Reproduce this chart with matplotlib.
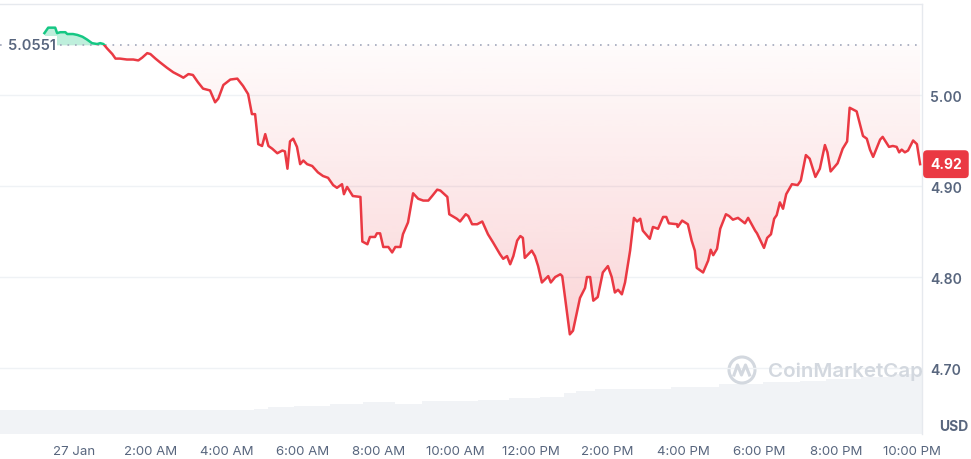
import numpy as np
import matplotlib
matplotlib.use("Agg")
import matplotlib.pyplot as plt
from matplotlib.patches import Rectangle, Circle
from matplotlib.lines import Line2D
from matplotlib.colors import to_rgb
from matplotlib.transforms import blended_transform_factory, IdentityTransform

plt.rcParams['font.family'] = ['Inter', 'DejaVu Sans']

# minutes after 00:00, 27 Jan (negative = evening of 26 Jan)
minutes = [-47, -41, -30, -27, -22, -14, -11, -2, 5, 13, 20, 28, 36, 41, 46, 52, 60, 65, 72, 83,
           93, 101, 107, 115, 120, 128, 135, 146, 156, 167, 172, 180, 187, 195, 203, 214, 222, 227, 235, 246,
           257, 266, 274, 280, 285, 290, 296, 301, 306, 312, 320, 328, 332, 336, 340, 345, 351, 356, 361, 367,
           375, 384, 392, 400, 408, 414, 422, 425, 430, 439, 451, 454, 462, 466, 474, 477, 482, 487, 495, 501,
           506, 514, 518, 526, 534, 542, 550, 558, 564, 572, 577, 588, 591, 603, 608, 617, 621, 627, 635, 643,
           652, 660, 671, 676, 682, 687, 692, 698, 703, 707, 710, 721, 726, 731, 737, 747, 751, 758, 766, 769,
           773, 781, 786, 797, 805, 808, 813, 818, 825, 833, 841, 847, 852, 857, 863, 868, 876, 882, 887, 892,
           896, 907, 912, 920, 928, 933, 937, 950, 951, 958, 967, 973, 978, 981, 991, 999, 1003, 1007, 1013, 1018,
           1027, 1032, 1038, 1046, 1057, 1062, 1073, 1076, 1087, 1092, 1098, 1103, 1107, 1112, 1117, 1122, 1131, 1140, 1145, 1153,
           1159, 1168, 1175, 1183, 1187, 1192, 1203, 1211, 1218, 1222, 1233, 1243, 1249, 1254, 1259, 1270, 1274, 1284, 1290, 1296,
           1300, 1304, 1309, 1314, 1322, 1328, 1333]
price = [5.068, 5.074, 5.074, 5.068, 5.069, 5.069, 5.067, 5.067, 5.066, 5.064, 5.061, 5.057, 5.056, 5.057, 5.056, 5.051, 5.045, 5.040, 5.040, 5.039,
         5.039, 5.038, 5.041, 5.046, 5.045, 5.040, 5.036, 5.030, 5.025, 5.021, 5.019, 5.023, 5.022, 5.014, 5.007, 5.005, 4.992, 4.996, 5.011, 5.017,
         5.018, 5.010, 5.001, 4.979, 4.979, 4.946, 4.944, 4.957, 4.944, 4.941, 4.936, 4.939, 4.938, 4.919, 4.949, 4.952, 4.943, 4.924, 4.928, 4.924,
         4.922, 4.915, 4.911, 4.909, 4.901, 4.898, 4.902, 4.891, 4.899, 4.889, 4.888, 4.839, 4.836, 4.844, 4.844, 4.848, 4.848, 4.833, 4.833, 4.827,
         4.833, 4.833, 4.847, 4.860, 4.892, 4.886, 4.884, 4.884, 4.889, 4.896, 4.895, 4.888, 4.869, 4.864, 4.861, 4.869, 4.867, 4.858, 4.858, 4.861,
         4.847, 4.838, 4.825, 4.820, 4.823, 4.814, 4.823, 4.840, 4.845, 4.843, 4.821, 4.829, 4.823, 4.812, 4.794, 4.801, 4.794, 4.800, 4.803, 4.801,
         4.780, 4.737, 4.741, 4.777, 4.788, 4.800, 4.800, 4.774, 4.778, 4.805, 4.812, 4.800, 4.783, 4.786, 4.781, 4.794, 4.829, 4.865, 4.861, 4.864,
         4.851, 4.842, 4.855, 4.853, 4.866, 4.866, 4.859, 4.858, 4.855, 4.862, 4.858, 4.840, 4.829, 4.810, 4.805, 4.818, 4.830, 4.824, 4.831, 4.853,
         4.869, 4.867, 4.863, 4.865, 4.859, 4.865, 4.851, 4.848, 4.832, 4.843, 4.847, 4.864, 4.868, 4.882, 4.875, 4.891, 4.902, 4.901, 4.906, 4.934,
         4.930, 4.910, 4.919, 4.945, 4.937, 4.916, 4.925, 4.941, 4.949, 4.986, 4.982, 4.955, 4.952, 4.940, 4.932, 4.951, 4.954, 4.943, 4.944, 4.943,
         4.937, 4.940, 4.937, 4.939, 4.950, 4.946, 4.924]
ref_price = 5.0551

# 24h volume (M USD), step levels starting at these minutes
vol_start = [-117, 284, 306, 347, 403, 455, 505, 548, 636, 685, 734, 772, 790, 820, 940, 1016, 1085, 1143, 1185, 1240, 1290]
vol_musd = [98, 102, 110, 114, 120, 128, 120, 134, 138, 144, 150, 164, 172, 180, 188, 202, 208, 212, 222, 230, 240]
vol_end = 1336

tick_minutes = [0, 120, 240, 360, 480, 600, 720, 840, 960, 1080, 1200, 1320]
tick_labels = ["27 Jan", "2:00 AM", "4:00 AM", "6:00 AM", "8:00 AM", "10:00 AM",
               "12:00 PM", "2:00 PM", "4:00 PM", "6:00 PM", "8:00 PM", "10:00 PM"]
price_ticks = [4.70, 4.80, 4.90, 5.00]

RED = '#ea3943'
GREEN = '#16c784'
GREY = '#58667e'
LIGHT = '#eff2f5'

t = np.array(minutes)
p = np.array(price)
xmin, xmax = -117, 1336
ymin, ymax = 4.6275, 5.10

fig = plt.figure(figsize=(9.71, 4.6), dpi=100)
ax = fig.add_axes([0, 25 / 460, 922 / 971, 430 / 460])
axv = ax.twinx()
ax.set_zorder(axv.get_zorder() + 1)
ax.patch.set_visible(False)

# volume
widths = np.diff(vol_start + [vol_end])
axv.bar(vol_start, vol_musd, width=widths, align='edge', color='#f1f3f6', linewidth=0)
axv.set_ylim(0, 1720)
axv.set_yticks([])
for s in axv.spines.values():
    s.set_visible(False)

# fills
ax.fill_between(t, p, ref_price, where=p >= ref_price, interpolate=True,
                color=GREEN, alpha=0.28, lw=0, zorder=2)
poly = ax.fill_between(t, p, ref_price, color='none', lw=0)
rgba = np.zeros((256, 1, 4))
rgba[..., :3] = to_rgb(RED)
rgba[..., 3] = np.linspace(0.28, 0.02, 256)[:, None]
im = ax.imshow(rgba, extent=[xmin, xmax, ymin, ref_price], origin='lower',
               aspect='auto', zorder=2, interpolation='bilinear')
im.set_clip_path(poly.get_paths()[0], transform=ax.transData)

# price line, green above the reference price, red below
above = Rectangle((xmin, ref_price), xmax - xmin, ymax - ref_price, transform=ax.transData)
below = Rectangle((xmin, ymin), xmax - xmin, ref_price - ymin, transform=ax.transData)
l1, = ax.plot(t, p, color=GREEN, lw=1.8, zorder=5, solid_joinstyle='round')
l1.set_clip_path(above)
l2, = ax.plot(t, p, color=RED, lw=1.8, zorder=5, solid_joinstyle='round')
l2.set_clip_path(below)

ax.axhline(ref_price, color='#a1a7bb', lw=1.2, ls=(0, (1, 3.5)), zorder=3)

ax.set_xlim(xmin, xmax)
ax.set_ylim(ymin, ymax)
ax.set_yticks(price_ticks, [f"{v:.2f}" for v in price_ticks], fontweight='semibold')
ax.yaxis.tick_right()
ax.set_xticks(tick_minutes, tick_labels)
ax.tick_params(axis='y', length=0, pad=6, labelsize=10, labelcolor=GREY)
ax.tick_params(axis='x', length=0, pad=8, labelsize=9.5, labelcolor=GREY)
ax.grid(axis='y', color=LIGHT, lw=1)
ax.set_axisbelow(True)
for k in ['left', 'bottom']:
    ax.spines[k].set_visible(False)
for k in ['top', 'right']:
    ax.spines[k].set_color('#e6e9ee')
    ax.spines[k].set_linewidth(1)

# reference price label
ax.text(0.0087, ref_price, f"{ref_price}", transform=blended_transform_factory(ax.transAxes, ax.transData),
        ha='left', va='center', fontsize=10.5, color=GREY, fontweight='semibold',
        bbox=dict(fc='white', ec='none', pad=1), zorder=6)

# last price badge
ax.annotate(f"{price[-1]:.2f}", xy=(1, price[-1]), xycoords=('axes fraction', 'data'),
            xytext=(5.8, 0), textcoords='offset points', ha='left', va='center',
            color='white', fontsize=10, fontweight='bold', annotation_clip=False, zorder=10,
            bbox=dict(boxstyle='round,pad=0.5,rounding_size=0.3', fc=RED, ec='none'))

fig.text(968 / 971, (460 - 427) / 460, "USD", ha='right', va='center',
         fontsize=10, fontweight='bold', color=GREY)

# watermark
wm = '#d3d8df'
fig.text(768 / 971, (460 - 372) / 460, "CoinMarketCap", ha='left', va='center',
         fontsize=14.8, fontweight='semibold', color=wm)
fig.add_artist(Circle((742, 460 - 371), 13, transform=IdentityTransform(),
                      fill=False, ec=wm, lw=2.2))
fig.add_artist(Line2D([734, 737.5, 741.5, 745.5, 749.5], [460 - 376, 460 - 366, 460 - 376, 460 - 366, 460 - 376],
                      transform=IdentityTransform(), color=wm, lw=2.2, solid_joinstyle='round'))

fig.savefig("out.png", dpi=100)
